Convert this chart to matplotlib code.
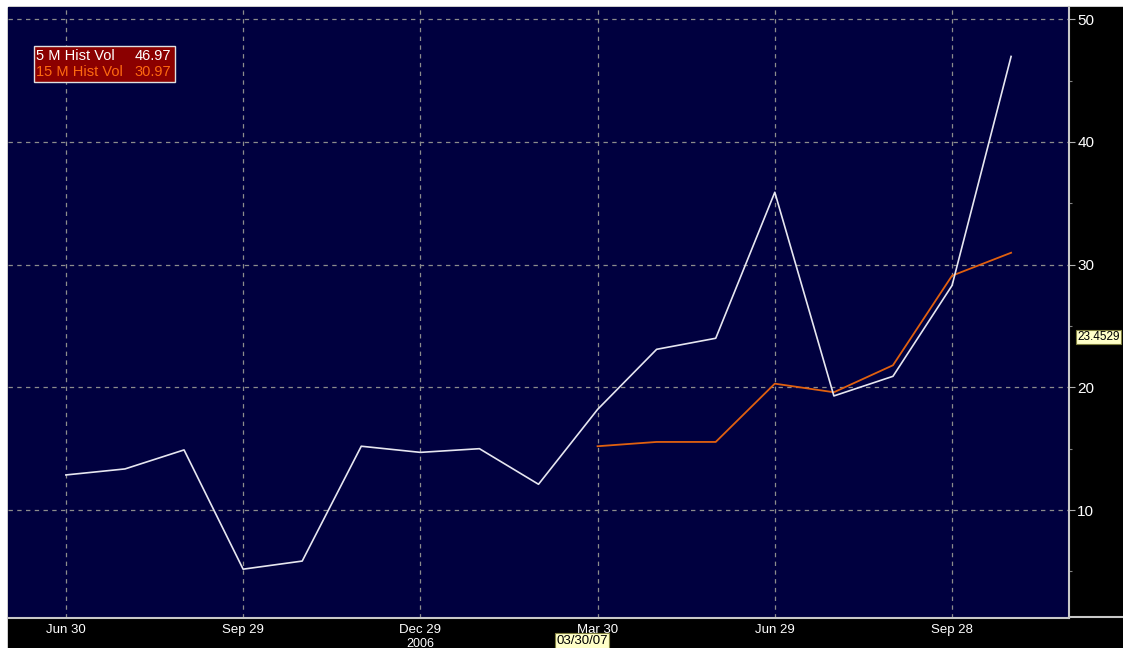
import matplotlib
matplotlib.use("Agg")
import matplotlib.pyplot as plt
from matplotlib import font_manager
from matplotlib.ticker import FixedLocator, MultipleLocator

names = {f.name for f in font_manager.fontManager.ttflist}
FONT = "Liberation Sans Narrow" if "Liberation Sans Narrow" in names else "Liberation Sans"
plt.rcParams['font.family'] = [FONT, 'DejaVu Sans']

# ---- data ----
tick_labels = ["Jun 30", "Sep 29", "Dec 29", "Mar 30", "Jun 29", "Sep 28"]
tick_index = [0, 3, 6, 9, 12, 15]
vol5 = [12.86, 13.35, 14.9, 5.18, 5.84, 15.2, 14.7, 15.0, 12.1, 18.2,
        23.1, 24.0, 35.9, 19.3, 20.9, 28.3, 46.97]
vol15_index = [9, 10, 11, 12, 13, 14, 15, 16]
vol15 = [15.2, 15.55, 15.55, 20.3, 19.6, 21.8, 29.1, 30.97]
y_ticks = [10, 20, 30, 40, 50]

W, H = 1123, 648
fig = plt.figure(figsize=(W / 100, H / 100), dpi=100, facecolor="white")
# black frame for axis areas
bg = plt.Rectangle((8 / W, 0), 1 - 8 / W, 1 - 7 / H,
                   transform=fig.transFigure, color="black", zorder=-10)
fig.patches.append(bg)

ax = fig.add_axes([8 / W, (H - 618) / H, 1061 / W, 611 / H])
ax.set_zorder(1)
ax.set_facecolor("#00003f")
x5 = list(range(len(vol5)))
ax.plot(x5, vol5, color="#e6e6f0", lw=1.2, zorder=3)
ax.plot(vol15_index, vol15, color="#e0600f", lw=1.3, zorder=2)

ax.set_xlim(-0.98, 16.98)
ax.set_ylim(1.2, 51.0)

ax.xaxis.set_major_locator(FixedLocator(tick_index))
ax.set_xticklabels(tick_labels)
ax.yaxis.set_major_locator(FixedLocator(y_ticks))
ax.yaxis.set_minor_locator(MultipleLocator(5))
ax.yaxis.tick_right()
ax.tick_params(axis="y", which="major", colors="#b0b0b0", length=4, width=0.8,
               labelcolor="white", labelsize=11, pad=2)
ax.tick_params(axis="y", which="minor", colors="#808080", length=2, width=0.8)
ax.tick_params(axis="x", which="major", length=0, labelcolor="white",
               labelsize=9.5, pad=4)
ax.grid(True, which="major", color="#8c8c8c", linestyle=(0, (3.5, 3.5)), lw=0.9)

for s in ["top", "left"]:
    ax.spines[s].set_visible(False)
ax.spines["bottom"].set_color("#c8c8c8")
ax.spines["bottom"].set_linewidth(1.5)
ax.spines["right"].set_color("#c8c8c8")
ax.spines["right"].set_linewidth(1.5)

# horizontal separator line across right panel
fig.add_artist(plt.Line2D([1069 / W, 1], [(H - 617) / H] * 2,
                          transform=fig.transFigure, color="#c8c8c8", lw=1.5))

# year label
ax.text(6, -0.032, "2006", transform=ax.get_xaxis_transform(), color="white",
        fontsize=9, ha="center", va="top")

# legend box
leg = plt.Rectangle((34 / W, 1 - 82 / H), 141 / W, 36 / H,
                    transform=fig.transFigure, facecolor="#8b0000",
                    edgecolor="#e0e0e0", lw=1, zorder=5)
fig.add_artist(leg)
fig.text(36 / W, 1 - 56 / H, "5 M Hist Vol", color="white", fontsize=10.5,
         va="center", ha="left", zorder=6)
fig.text(171 / W, 1 - 56 / H, f"{vol5[-1]:.2f}", color="white", fontsize=10.5,
         va="center", ha="right", zorder=6)
fig.text(36 / W, 1 - 72 / H, "15 M Hist Vol", color="#ff6a10", fontsize=10.5,
         va="center", ha="left", zorder=6)
fig.text(171 / W, 1 - 72 / H, f"{vol15[-1]:.2f}", color="#ff6a10", fontsize=10.5,
         va="center", ha="right", zorder=6)

# cursor value tags
fig.text(1077 / W, 1 - 337 / H, "23.4529", color="black", fontsize=8.5,
         va="center", ha="left", zorder=6,
         bbox=dict(boxstyle="square,pad=0.12", facecolor="#ffffc8", edgecolor="#808040", lw=0.8))
fig.text(582 / W, 1 - 641 / H, "03/30/07", color="black", fontsize=9.5,
         va="center", ha="center", zorder=6,
         bbox=dict(boxstyle="square,pad=0.12", facecolor="#ffffc8", edgecolor="#808040", lw=0.8))

fig.savefig("out.png", dpi=100, facecolor="white")
